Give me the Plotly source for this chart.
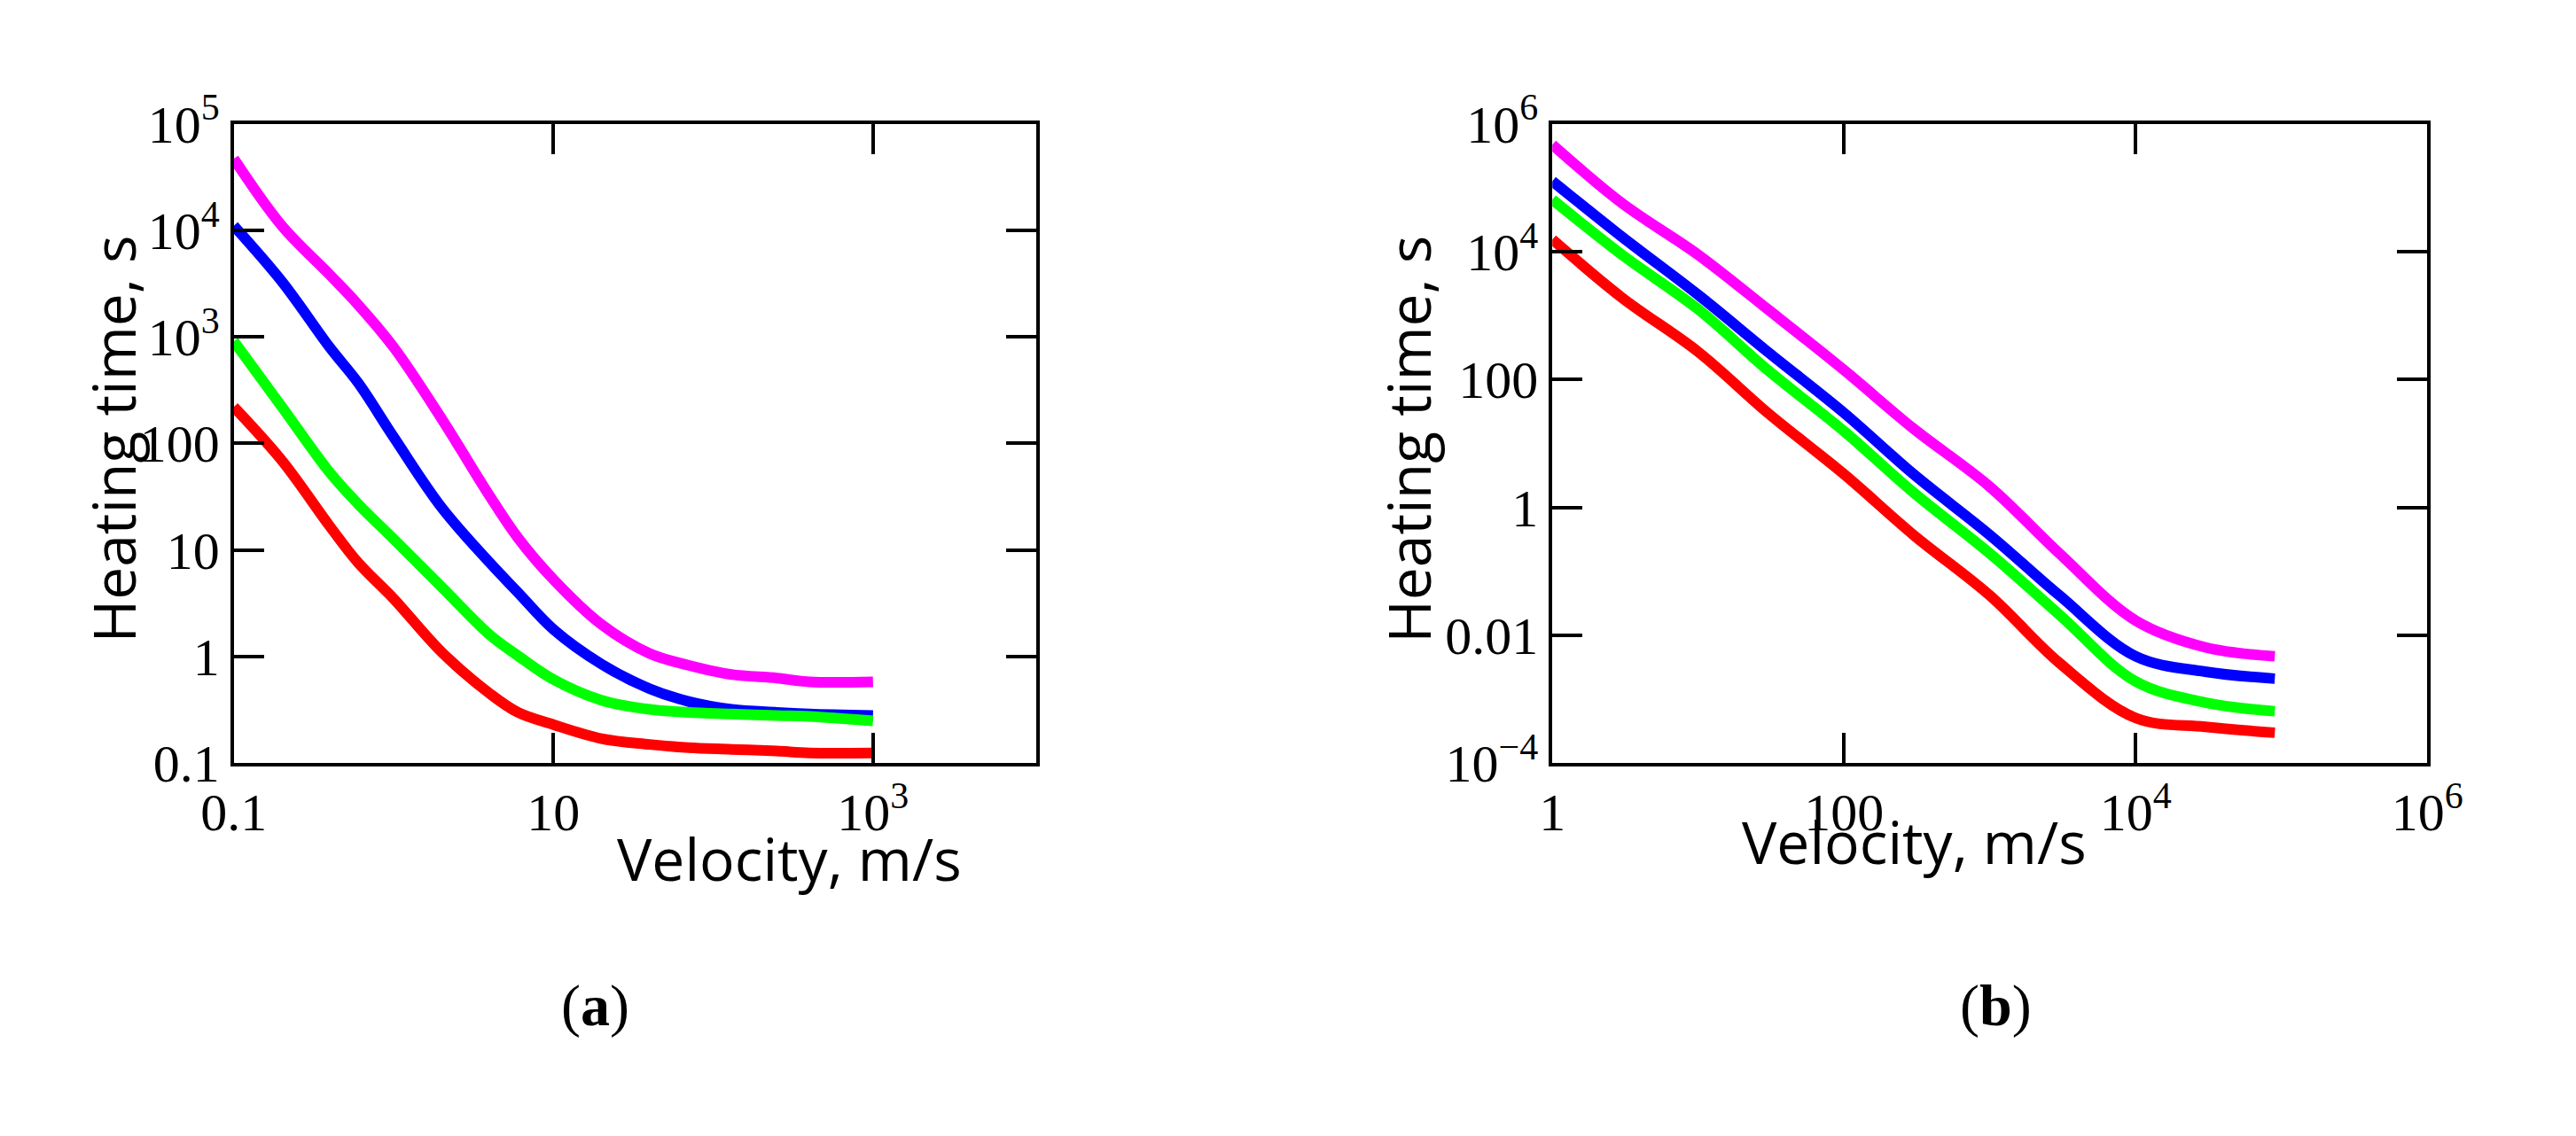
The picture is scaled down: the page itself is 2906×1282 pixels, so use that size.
import plotly.graph_objects as go

# (a) velocity 0.1 .. 1000 m/s
vel_a = [0.1, 0.2, 0.4, 0.6, 1, 2, 4, 6, 10, 20, 40, 70, 130, 250, 400, 1000]
magenta_a = [4.7e4, 1.1e4, 3.8e3, 2.0e3, 800, 170, 32, 13, 5.3, 2.0, 1.07, 0.83, 0.68, 0.63, 0.58, 0.58]
blue_a = [1.1e4, 3.3e3, 790, 370, 115, 25, 7.6, 4.0, 1.8, 0.85, 0.5, 0.38, 0.32, 0.30, 0.29, 0.28]
green_a = [910, 220, 53, 27, 12.7, 4.5, 1.6, 1.02, 0.61, 0.39, 0.32, 0.30, 0.29, 0.28, 0.275, 0.25]
red_a = [220, 69, 16.6, 7.6, 3.5, 1.1, 0.45, 0.30, 0.23, 0.17, 0.15, 0.14, 0.135, 0.13, 0.125, 0.125]

# (b) velocity 1 .. 1e5 m/s
vel_b = [1, 3, 10, 30, 100, 300, 1000, 3000, 1e4, 3e4, 9e4]
magenta_b = [4.7e5, 5.7e4, 8.9e3, 1.25e3, 140, 17, 2.1, 0.19, 0.017, 0.0065, 0.0047]
blue_b = [1.26e5, 1.7e4, 2.1e3, 270, 30, 3.3, 0.37, 0.042, 0.0047, 0.0027, 0.0021]
green_b = [6.5e4, 8.9e3, 1.25e3, 140, 15.5, 1.7, 0.19, 0.021, 0.0019, 8.9e-4, 6.5e-4]
red_b = [1.55e4, 1.9e3, 270, 30, 3.3, 0.37, 0.042, 0.0037, 5.1e-4, 3.7e-4, 3.0e-4]

colors = ["#FF00FF", "#0000FF", "#00FF00", "#FF0000"]

fig = go.Figure()
for ys, c in zip([magenta_a, blue_a, green_a, red_a], colors):
    fig.add_trace(go.Scatter(x=vel_a, y=ys, mode="lines", line=dict(color=c, width=12, shape="spline"),
                             xaxis="x", yaxis="y", showlegend=False))
for ys, c in zip([magenta_b, blue_b, green_b, red_b], colors):
    fig.add_trace(go.Scatter(x=vel_b, y=ys, mode="lines", line=dict(color=c, width=12, shape="spline"),
                             xaxis="x2", yaxis="y2", showlegend=False))

tickfont = dict(family="Liberation Serif", size=60, color="black")
common = dict(type="log", showgrid=False, zeroline=False, showline=True, linecolor="black", linewidth=4,
              mirror="ticks", ticks="inside", ticklen=34, tickwidth=4, tickcolor="black", tickfont=tickfont)

fig.update_layout(
    width=2906, height=1282,
    margin=dict(l=0, r=0, t=0, b=0),
    plot_bgcolor="white", paper_bgcolor="white",
    xaxis=dict(common, domain=[0.077, 0.397], range=[-1, 4.02], anchor="y",
               tickvals=[0.1, 10, 1000], ticktext=["0.1", "10", "10<sup>3</sup>"]),
    yaxis=dict(common, domain=[0.327, 0.925], range=[-1, 5], anchor="x",
               tickvals=[0.1, 1, 10, 100, 1e3, 1e4, 1e5],
               ticktext=["0.1", "1", "10", "100", "10<sup>3</sup>", "10<sup>4</sup>", "10<sup>5</sup>"]),
    xaxis2=dict(common, domain=[0.603, 0.952], range=[0, 6], anchor="y2",
                tickvals=[1, 100, 1e4, 1e6], ticktext=["1", "100", "10<sup>4</sup>", "10<sup>6</sup>"]),
    yaxis2=dict(common, domain=[0.327, 0.925], range=[-4, 6], anchor="x2",
                tickvals=[1e-4, 0.01, 1, 100, 1e4, 1e6],
                ticktext=["10<sup>\u22124</sup>", "0.01", "1", "100", "10<sup>4</sup>", "10<sup>6</sup>"]),
)

title_font = dict(family="Open Sans", size=66, color="black")
annotations = [
    dict(text="Velocity, m/s", x=0.229, y=0.20, xref="paper", yref="paper", showarrow=False, font=title_font),
    dict(text="Velocity, m/s", x=0.817, y=0.215, xref="paper", yref="paper", showarrow=False, font=title_font),
    dict(text="Heating time, s", x=0.012, y=0.63, xref="paper", yref="paper", showarrow=False,
         textangle=-90, font=title_font),
    dict(text="Heating time, s", x=0.545, y=0.63, xref="paper", yref="paper", showarrow=False,
         textangle=-90, font=title_font),
    dict(text="(<b>a</b>)", x=0.207, y=0.068, xref="paper", yref="paper", showarrow=False,
         font=dict(family="Liberation Serif", size=66, color="black")),
    dict(text="(<b>b</b>)", x=0.795, y=0.068, xref="paper", yref="paper", showarrow=False,
         font=dict(family="Liberation Serif", size=66, color="black")),
]
fig.update_layout(annotations=annotations)

fig.write_html("out.html")
